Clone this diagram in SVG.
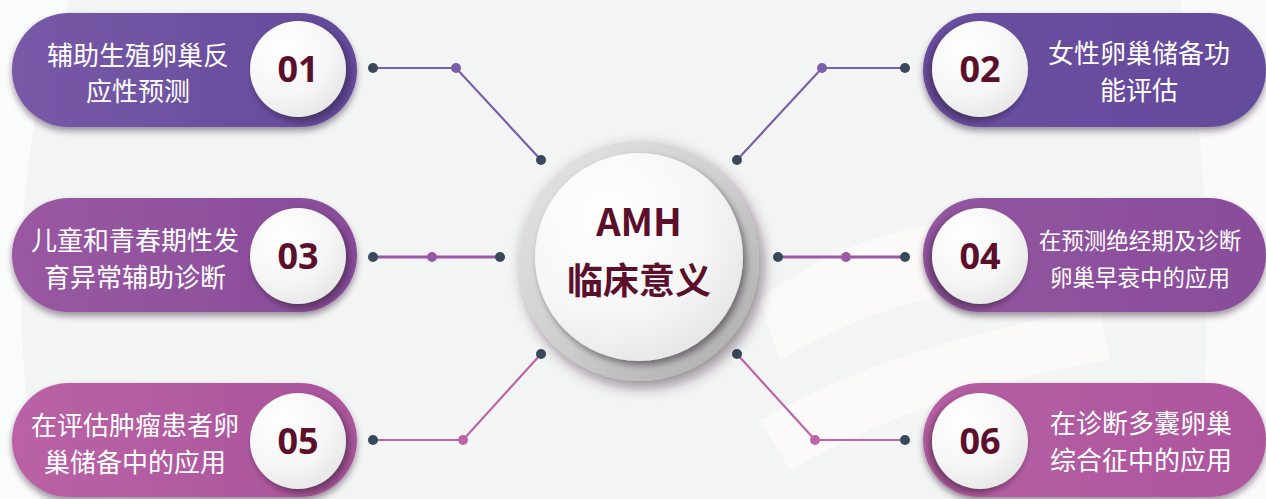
<svg xmlns="http://www.w3.org/2000/svg" width="1266" height="499" viewBox="0 0 1266 499">
<style>
.lbl{font-family:"Noto Sans CJK SC","Noto Sans",sans-serif;fill:#ffffff;font-size:26px;text-anchor:middle}
.sm{font-size:22.5px}
.num{font-family:"Open Sans","Noto Sans",sans-serif;font-weight:bold;fill:#5c0f2b;font-size:36px;text-anchor:middle}
.ctr{font-family:"Noto Sans CJK SC","Open Sans",sans-serif;font-weight:bold;fill:#5c0f2b;text-anchor:middle}
.dd{fill:#37495a}
.l1{stroke:#7b5ea8;stroke-width:2.2;fill:none}
.l2{stroke:#9a58a6;stroke-width:3;fill:none}
.l3{stroke:#bb64a6;stroke-width:2.2;fill:none}
</style>
<defs>
<linearGradient id="g1" x1="0" y1="0" x2="1" y2="0"><stop offset="0" stop-color="#7859a7"/><stop offset="1" stop-color="#634a9b"/></linearGradient>
<linearGradient id="g1r" x1="1" y1="0" x2="0" y2="0"><stop offset="0" stop-color="#654b9c"/><stop offset="1" stop-color="#6a4ea0"/></linearGradient>
<linearGradient id="g2" x1="0" y1="0" x2="1" y2="0"><stop offset="0" stop-color="#9a58a2"/><stop offset="1" stop-color="#874c99"/></linearGradient>
<linearGradient id="g2r" x1="1" y1="0" x2="0" y2="0"><stop offset="0" stop-color="#894d9b"/><stop offset="1" stop-color="#9355a0"/></linearGradient>
<linearGradient id="g3" x1="0" y1="0" x2="1" y2="0"><stop offset="0" stop-color="#bb62a6"/><stop offset="1" stop-color="#a8549b"/></linearGradient>
<linearGradient id="g3r" x1="1" y1="0" x2="0" y2="0"><stop offset="0" stop-color="#ad569e"/><stop offset="1" stop-color="#b55ea3"/></linearGradient>
<radialGradient id="wc" cx="0.35" cy="0.3" r="0.8"><stop offset="0" stop-color="#ffffff"/><stop offset="0.6" stop-color="#f6f6f6"/><stop offset="1" stop-color="#e4e4e4"/></radialGradient>
<linearGradient id="ring" x1="0" y1="0" x2="1" y2="1"><stop offset="0" stop-color="#e6e6e6"/><stop offset="0.5" stop-color="#cfcfcf"/><stop offset="1" stop-color="#a9a9a9"/></linearGradient>
<filter id="sh" x="-20%" y="-30%" width="140%" height="170%"><feDropShadow dx="0" dy="4" stdDeviation="3" flood-color="#2a1a2a" flood-opacity="0.45"/></filter>
<filter id="shc" x="-30%" y="-30%" width="170%" height="170%"><feDropShadow dx="3" dy="4" stdDeviation="3" flood-color="#1a1020" flood-opacity="0.5"/></filter>
<filter id="shcl" x="-30%" y="-30%" width="170%" height="170%"><feDropShadow dx="-3" dy="4" stdDeviation="3" flood-color="#1a1020" flood-opacity="0.5"/></filter>
<filter id="shb" x="-30%" y="-30%" width="170%" height="170%"><feDropShadow dx="4" dy="6" stdDeviation="7" flood-color="#301828" flood-opacity="0.5"/></filter>
</defs>
<rect width="1266" height="499" fill="#f3f5f5"/>
<path d="M70 0 C20 120 5 300 40 499 L0 499 L0 0 Z" fill="#fafbfb"/>
<path d="M1180 0 C1210 150 1215 330 1195 499 L1266 499 L1266 0 Z" fill="#fafafa"/>
<path d="M760 300 C860 220 1000 200 1130 230 L1140 280 C1000 270 880 300 780 360 Z" fill="#fcf9f9"/>
<path d="M760 420 C850 370 960 330 1100 310 L1110 360 C980 380 880 420 790 470 Z" fill="#fcf9f9"/>

<g id="connectors">
<polyline class="l1" points="373,68 456,68 541,160"/>
<circle class="dd" cx="373" cy="68" r="5"/><circle cx="456" cy="68" r="5" fill="#7b5ea8"/><circle class="dd" cx="541" cy="160" r="5"/>
<polyline class="l1" points="905,68 822,68 737,160"/>
<circle class="dd" cx="905" cy="68" r="5"/><circle cx="822" cy="68" r="5" fill="#7b5ea8"/><circle class="dd" cx="737" cy="160" r="5"/>
<line class="l2" x1="373" y1="257" x2="500" y2="257"/>
<circle class="dd" cx="373" cy="257" r="5"/><circle cx="432" cy="257" r="5" fill="#9a58a6"/><circle class="dd" cx="500" cy="257" r="5"/>
<line class="l2" x1="778" y1="257" x2="905" y2="257"/>
<circle class="dd" cx="778" cy="257" r="5"/><circle cx="846" cy="257" r="5" fill="#9a58a6"/><circle class="dd" cx="905" cy="257" r="5"/>
<polyline class="l3" points="373,440 463,440 541,354"/>
<circle class="dd" cx="373" cy="440" r="5"/><circle cx="463" cy="440" r="5" fill="#bb64a6"/><circle class="dd" cx="541" cy="354" r="5"/>
<polyline class="l3" points="905,440 815,440 737,354"/>
<circle class="dd" cx="905" cy="440" r="5"/><circle cx="815" cy="440" r="5" fill="#bb64a6"/><circle class="dd" cx="737" cy="354" r="5"/>
</g>

<g id="center">
<circle cx="639" cy="261" r="120" fill="url(#ring)" filter="url(#shb)"/>
<circle cx="639" cy="257" r="104" fill="url(#wc)" filter="url(#shc)"/>
<text class="ctr" x="639" y="236" font-size="38">AMH</text>
<text class="ctr" x="639" y="294" font-size="36">临床意义</text>
</g>

<g id="node01">
<rect x="12" y="13" width="345" height="114" rx="57" fill="url(#g1)" filter="url(#sh)"/>
<circle cx="298" cy="69" r="48" fill="url(#wc)" filter="url(#shc)"/>
<text class="num" x="298" y="82">01</text>
<text class="lbl" x="138" y="65">辅助生殖卵巢反</text>
<text class="lbl" x="138" y="101">应性预测</text>
</g>
<g id="node02">
<rect x="923" y="13" width="343" height="114" rx="57" fill="url(#g1r)" filter="url(#sh)"/>
<circle cx="980" cy="69" r="48" fill="url(#wc)" filter="url(#shcl)"/>
<text class="num" x="980" y="82">02</text>
<text class="lbl" x="1139" y="63">女性卵巢储备功</text>
<text class="lbl" x="1139" y="100">能评估</text>
</g>
<g id="node03">
<rect x="12" y="198" width="345" height="114" rx="57" fill="url(#g2)" filter="url(#sh)"/>
<circle cx="298" cy="256" r="48" fill="url(#wc)" filter="url(#shc)"/>
<text class="num" x="298" y="269">03</text>
<text class="lbl" x="135" y="250">儿童和青春期性发</text>
<text class="lbl" x="135" y="287">育异常辅助诊断</text>
</g>
<g id="node04">
<rect x="923" y="198" width="343" height="114" rx="57" fill="url(#g2r)" filter="url(#sh)"/>
<circle cx="980" cy="256" r="48" fill="url(#wc)" filter="url(#shcl)"/>
<text class="num" x="980" y="269">04</text>
<text class="lbl sm" x="1140" y="249">在预测绝经期及诊断</text>
<text class="lbl sm" x="1140" y="286">卵巢早衰中的应用</text>
</g>
<g id="node05">
<rect x="12" y="383" width="345" height="114" rx="57" fill="url(#g3)" filter="url(#sh)"/>
<circle cx="298" cy="441" r="48" fill="url(#wc)" filter="url(#shc)"/>
<text class="num" x="298" y="454">05</text>
<text class="lbl" x="135" y="435">在评估肿瘤患者卵</text>
<text class="lbl" x="135" y="472">巢储备中的应用</text>
</g>
<g id="node06">
<rect x="923" y="383" width="343" height="114" rx="57" fill="url(#g3r)" filter="url(#sh)"/>
<circle cx="980" cy="441" r="48" fill="url(#wc)" filter="url(#shcl)"/>
<text class="num" x="980" y="454">06</text>
<text class="lbl" x="1141" y="433">在诊断多囊卵巢</text>
<text class="lbl" x="1141" y="470">综合征中的应用</text>
</g>
</svg>
